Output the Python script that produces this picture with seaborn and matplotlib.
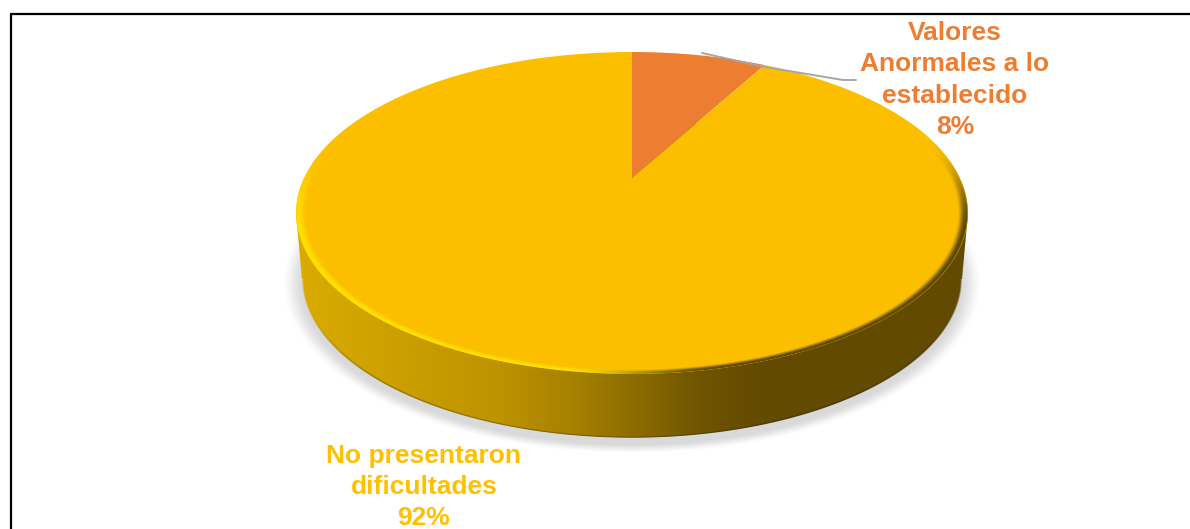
import numpy as np
import matplotlib
matplotlib.use("Agg")
import matplotlib.pyplot as plt
from matplotlib.transforms import Transform
import seaborn as sns

categories = ["Valores\nAnormales a lo\nestablecido", "No presentaron\ndificultades"]
percentages = [8, 92]
slice_colors = ["#ED7D31", "#FBBF00"]

W, H = 1190, 529
sns.set_theme(style="white")
plt.rcParams["font.family"] = ["Liberation Sans", "DejaVu Sans"]

# Perspective of the pie's top face, in pixel-like data units
CX, APEX_Y, PERSP, FAR, KX = 632.0, 178.0, 0.2174, -114.7, 328.0


class Perspective(Transform):
    input_dims = output_dims = 2
    has_inverse = False

    def transform_non_affine(self, values):
        u, v = values[:, 0], values[:, 1]
        w = 1 + PERSP * v
        return np.column_stack([CX + KX * u / w, (APEX_Y + FAR * v) / w])


fig = plt.figure(figsize=(W / 100, H / 100), dpi=100, facecolor="white")
ax = fig.add_axes([0, 0, 1, 1])

wedges, texts = ax.pie(
    percentages,
    colors=slice_colors,
    startangle=90,
    counterclock=False,
    radius=1,
    labels=[f"{c}\n{p}%" for c, p in zip(categories, percentages)],
    wedgeprops=dict(linewidth=0, antialiased=True),
    textprops=dict(fontsize=19, fontweight="bold", linespacing=1.37, ha="center", va="center"),
)
ax.set_aspect("auto")
ax.set_xlim(0, W)
ax.set_ylim(H, 0)
ax.axis("off")

persp = Perspective()
for w_ in wedges:
    w_.set_transform(persp + ax.transData)
    w_.set_zorder(5)

label_xy = [(955, 80), (424, 487)]
for t, xy, col in zip(texts, label_xy, ["#ED7D31", "#FFC000"]):
    t.set_position(xy)
    t.set_color(col)
    t.set_ha("center")
    t.set_va("center")
    t.set_zorder(8)
    t.set_clip_on(False)

# --- pixel grid for the 3-D shading layers
yy, xx = np.mgrid[0:H, 0:W] + 0.5
TOP = (632.0, 213.0, 336.0, 161.0)
BOT = (632.0, 279.0, 330.0, 159.0)


def rad(e):
    return np.hypot((xx - e[0]) / e[2], (yy - e[1]) / e[3])


def smooth(a, lo, hi):
    t = np.clip((a - lo) / (hi - lo), 0, 1)
    return t * t * (3 - 2 * t)


# soft shadow
r_sh = np.hypot((xx - 632) / 340.0, (yy - 283) / 166.0)
sh_alpha = (1 - smooth(r_sh, 0.965, 1.03)) * 0.27
shadow = np.zeros((H, W, 4))
shadow[..., :3] = 0.45
shadow[..., 3] = sh_alpha
ax.imshow(shadow, extent=(0, W, H, 0), aspect="auto", zorder=1, interpolation="bilinear")

# side wall with horizontal gradient
stops_x = [296, 400, 500, 580, 640, 700, 760, 968]
stops_c = np.array(
    [
        [0xDA, 0xAC, 0x00],
        [0xCB, 0x9F, 0x00],
        [0xBD, 0x93, 0x00],
        [0xA4, 0x7F, 0x00],
        [0x8A, 0x6A, 0x00],
        [0x70, 0x55, 0x00],
        [0x62, 0x4A, 0x00],
        [0x62, 0x4A, 0x00],
    ]
) / 255.0
wall = np.zeros((H, W, 4))
for ch in range(3):
    wall[..., ch] = np.interp(xx, stops_x, stops_c[:, ch])
# silhouette: swept ellipse between top face and bottom rim, anti-aliased
frac = np.clip((yy - TOP[1]) / (BOT[1] - TOP[1]), 0, 1)
half = TOP[2] + (BOT[2] - TOP[2]) * frac
band = np.clip(half - np.abs(xx - 632) + 0.5, 0, 1) * ((yy >= TOP[1]) & (yy <= BOT[1]))
edge_bot = 1 - smooth(rad(BOT), 0.994, 1.002)
wall[..., 3] = np.maximum(band, edge_bot)
# thin darker lip along the bottom of the wall only
lip = (smooth(rad(BOT), 0.986, 0.999) * smooth(yy, 300, 400))[..., None] * 0.35
wall[..., :3] *= 1 - lip
ax.imshow(wall, extent=(0, W, H, 0), aspect="auto", zorder=2, interpolation="bilinear")

# bevel rim on the top face: bright at left, dark at right
r_top = rad(TOP)
rim = np.zeros((H, W, 4))
mix = smooth(xx, 560, 720)[..., None]
bright = np.array([1.0, 0.88, 0.0])
dark = np.array([0.38, 0.29, 0.0])
rim[..., :3] = bright * (1 - mix) + dark * mix
lower = smooth(yy, 140, 230)
strength = smooth(r_top, 0.968, 0.992) * (1 - smooth(r_top, 0.996, 1.002))
rim[..., 3] = strength * lower
ax.imshow(rim, extent=(0, W, H, 0), aspect="auto", zorder=6, interpolation="bilinear")

ax.set_xlim(0, W)
ax.set_ylim(H, 0)

# leader line
leader_x = [702, 765, 843, 856]
leader_y = [53, 67, 80, 80]
sns.lineplot(x=leader_x, y=leader_y, sort=False, estimator=None, color="#A6A6A6", lw=1.4,
             ax=ax, zorder=7, legend=False)
leg = ax.get_legend()
if leg is not None:
    leg.remove()

# chart frame
ax.plot([11, 11], [H, 14], color="black", lw=1.6, solid_capstyle="butt", zorder=9)
ax.plot([10.4, W], [14, 14], color="black", lw=1.6, solid_capstyle="butt", zorder=9)

fig.savefig("out.png", dpi=100)
